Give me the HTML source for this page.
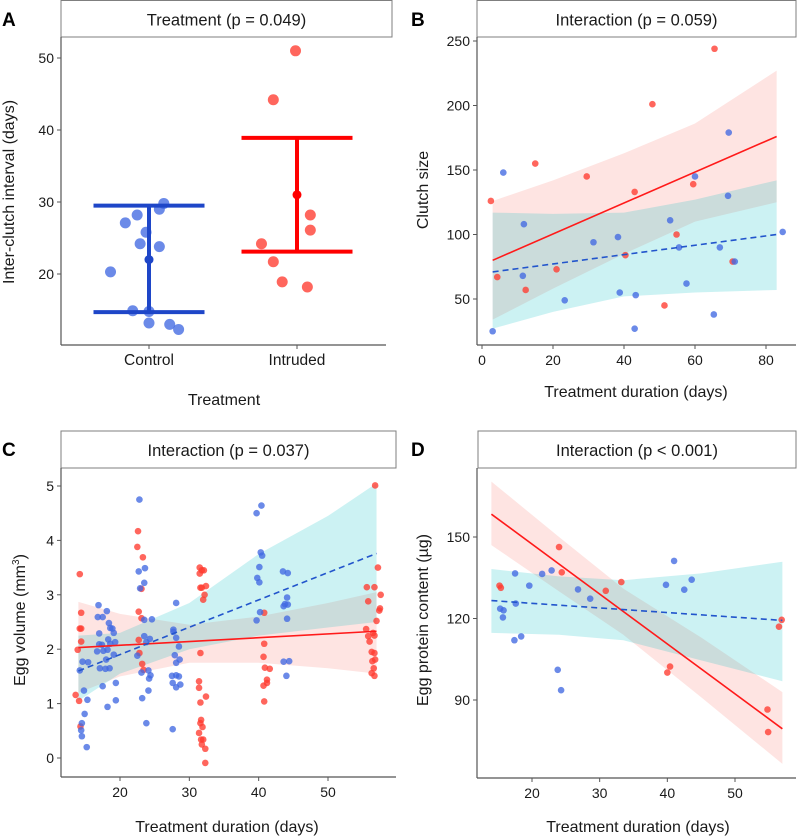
<!DOCTYPE html>
<html><head><meta charset="utf-8"><style>
html,body{margin:0;padding:0;background:#fff;}
svg{display:block;font-family:"Liberation Sans",Arial,sans-serif;}
</style></head><body>
<svg id="fig" width="798" height="836" viewBox="0 0 798 836"></svg>
<script>
// ---------- Panel A data ----------
const aCats = ["Control","Intruded"];
const aCtrlVals = [27.1,28.2,25.8,24.2,23.8,29.0,29.8,20.3,14.9,14.8,13.2,13.0,12.3];
const aCtrlJit  = [-0.16,-0.08,-0.02,-0.06,0.07,0.07,0.10,-0.26,-0.11,0,0,0.14,0.20];
const aIntrVals = [51,44.2,28.2,26.1,24.2,21.7,18.9,18.2];
const aIntrJit  = [-0.01,-0.16,0.09,0.09,-0.24,-0.16,-0.10,0.07];
const aMeans = [22,31];
const aLow = [14.7,23.1];
const aHigh = [29.5,38.9];
const aTicks = [20,30,40,50];
// ---------- Panel B data ----------
const bRedX = [2.5,4.3,12.3,15,21,29.5,40.4,43,48,51.4,54.8,59.5,65.5,70.6];
const bRedY = [126,67,57,155,73,145,84,133,201,45,100,139,244,79];
const bBlueX = [3,6,11.5,11.8,23.3,31.4,38.3,38.8,43,43.3,53,55.5,57.6,60,65.3,67,69.3,69.5,71.2,84.7];
const bBlueY = [25,148,68,108,49,94,98,55,27,53,111,90,62,145,38,90,130,179,79,102];
const bBandX = [3,20,40,60,83];
const bRedUp = [126,142,163,186,227];
const bRedLo = [34,58,85,110,125];
const bBlueUp = [117,116,117,127,142];
const bBlueLo = [27,40,52,55,57];
const bRedLine = [[3,80],[83,176]];
const bBlueLine = [[3,71],[83,100]];
const bXTicks = [0,20,40,60,80];
const bYTicks = [50,100,150,200,250];
// ---------- Panel C data ----------
const cRedX = [13.6,13.9,14.1,14.2,14.2,14.4,14.4,14.4,14.3,22.6,22.5,23.3,22.7,23.1,22.7,22.8,23.2,23.4,23.1,31.5,31.8,32.1,31.5,31.8,31.6,32.4,32.0,32.2,31.6,31.4,31.4,31.6,32.4,31.7,31.6,31.9,31.4,32.0,31.7,31.8,32.3,32.3,40.8,40.8,40.7,40.9,40.7,41.2,41.2,41.6,40.8,56.8,57.2,55.6,56.7,55.8,57.6,57.5,57.4,57.0,55.5,55.8,56.0,56.5,56.7,56.3,56.7,56.8,56.4,56.3,56.6,56.7];
const cRedY = [1.16,1.99,1.05,3.38,2.38,2.67,2.38,2.14,0.58,4.17,3.88,3.69,2.69,3.11,2.17,1.93,1.73,1.62,2.57,3.50,3.45,3.45,3.39,3.13,3.13,3.16,2.91,3.00,1.93,1.41,1.29,1.02,1.13,0.70,0.64,0.57,0.46,0.34,0.34,0.25,0.17,-0.09,2.67,2.10,1.86,1.66,1.33,1.44,1.38,1.64,1.04,5.01,3.50,3.14,3.14,2.88,3.00,2.75,2.71,2.52,2.37,2.24,2.14,2.30,2.25,1.95,1.93,1.81,1.78,1.56,1.65,1.51];
const cBlueX = [22.8,22.7,22.9,23.5,23.6,16.9,16.8,17.5,18.1,17.0,17.0,16.7,17.4,17.6,18.4,18.6,18.9,19.1,18.3,18.6,18.2,18.0,19.3,19.1,18.5,17.1,17.9,19.4,17.5,18.2,19.4,14.8,15.3,15.4,14.6,14.2,14.9,14.5,14.4,14.5,15.2,22.5,23.5,23.8,24.3,23.5,24.6,23.1,24.1,24.2,24.4,24.1,23.2,23.8,28.1,27.7,27.7,28.1,28.5,27.9,28.1,28.6,27.5,28.1,28.5,27.6,28.1,28.7,27.6,39.7,40.4,40.3,40.5,40.1,39.8,40.1,40.2,39.7,43.5,44.2,44.1,43.8,44.2,43.6,44.1,43.6,44.4,44.0];
const cBlueY = [4.75,3.43,3.12,3.22,3.49,2.81,2.59,2.59,2.70,2.29,2.09,1.96,2.08,1.97,2.48,2.39,2.38,2.30,2.18,2.10,1.99,1.81,2.13,1.90,1.65,1.65,1.64,1.38,1.32,0.94,1.06,1.24,1.07,1.76,1.77,1.61,0.81,0.64,0.51,0.40,0.20,1.88,2.24,2.13,2.19,2.54,2.55,1.57,1.61,1.46,1.52,1.24,1.10,0.64,2.85,2.36,2.32,2.21,2.05,1.89,1.75,1.81,1.51,1.52,1.50,1.38,1.30,1.35,0.53,4.50,4.64,3.78,3.72,3.51,3.31,3.23,2.68,2.53,3.43,3.40,2.95,2.83,2.82,2.79,2.56,1.77,1.78,1.51];
const cBandX = [14,20,30,40,50,57];
const cRedUp = [2.87,2.65,2.45,2.6,2.85,3.05];
const cRedLo = [1.2,1.5,1.75,1.75,1.65,1.55];
const cBlueUp = [2.25,2.3,2.85,3.75,4.45,5.05];
const cBlueLo = [1.05,1.55,2.0,2.25,2.4,2.5];
const cRedLine = [[14,2.03],[57,2.33]];
const cBlueLine = [[14,1.6],[57,3.76]];
const cXTicks = [20,30,40,50];
const cYTicks = [0,1,2,3,4,5];
// ---------- Panel D data ----------
const dRedX = [15.2,15.4,24.0,24.4,30.9,33.2,40.0,40.4,54.8,54.9,56.5,56.9];
const dRedY = [132.1,131.3,146.3,137.0,130.2,133.4,100.1,102.3,86.5,78.2,117.0,119.5];
const dBlueX = [15.3,15.8,15.7,17.5,17.6,17.4,18.4,19.6,21.5,22.9,23.8,24.3,26.8,28.6,39.8,41.0,42.5,43.6];
const dBlueY = [123.6,123.0,120.4,136.6,125.5,112.0,113.4,132.1,136.4,137.7,101.1,93.6,130.7,127.3,132.4,141.2,130.6,134.3];
const dBandX = [14,24,33.5,45,57];
const dRedUp = [170.4,150,131,113,92.9];
const dRedLo = [147,130,114,91,66.5];
const dBlueUp = [138.2,135.5,134.1,136.6,140.9];
const dBlueLo = [114.7,114,112,104.6,96.9];
const dRedLine = [[14,158.4],[57,79.4]];
const dBlueLine = [[14,126.6],[57,119.3]];
const dXTicks = [20,30,40,50];
const dYTicks = [90,120,150];

const NS = "http://www.w3.org/2000/svg";
const fig = document.getElementById('fig');
function mk(tag, attrs, parent){ const e=document.createElementNS(NS,tag); for(const k in attrs) e.setAttribute(k,attrs[k]); (parent||fig).appendChild(e); return e; }
function txt(s, attrs, parent){ const e=mk('text',attrs,parent); e.textContent=s; return e; }
function lin(d0,d1,r0,r1){ return v=>r0+(v-d0)*(r1-r0)/(d1-d0); }

const BLUEPT="#4169E1", REDPT="#FF3B30";
function panel(name, letter, title, box){
  const g=mk('g',{});
  
  
  const l=txt(letter,{x:box.lx,y:box.ly,'font-size':19,'font-weight':'bold',fill:'#000'},g);
   
  const s=mk('rect',{x:box.sx0,y:box.sy0,width:box.sx1-box.sx0,height:box.sy1-box.sy0,fill:'#fff',stroke:'#7f7f7f','stroke-width':1},g);
   
  const st=txt(title,{x:(box.sx0+box.sx1)/2,y:box.sy0+25,'font-size':16.5,'text-anchor':'middle',fill:'#1a1a1a'},g);
   
  return g;
}
function axes(g,name,o){
  const ya=mk('line',{x1:o.x0,y1:o.y0t,x2:o.x0,y2:o.y1,stroke:'#555','stroke-width':1.2},g);
   
  const xa=mk('line',{x1:o.x0,y1:o.y1,x2:o.x1,y2:o.y1,stroke:'#555','stroke-width':1.2},g);
   
  o.yTicks.forEach(t=>{ const y=o.sy(t);
    mk('line',{x1:o.x0-4,y1:y,x2:o.x0,y2:y,stroke:'#555'},g);
    const e=txt(String(t),{x:o.x0-7,y:y+5,'font-size':14,'text-anchor':'end',fill:'#1a1a1a'},g);
      });
  o.xTicks.forEach((t,i)=>{ const x=o.sx(t);
    mk('line',{x1:x,y1:o.y1,x2:x,y2:o.y1+4,stroke:'#555'},g);
    const lab=o.xLabels?o.xLabels[i]:String(t);
    const e=txt(lab,{x:x,y:o.y1+20,'font-size':o.xLabels?15.5:14,'text-anchor':'middle',fill:'#1a1a1a'},g);
      });
  const xt=txt(o.xTitle,{x:o.xtX,y:o.xtY,'font-size':16,'text-anchor':'middle',fill:'#1a1a1a'},g);
   
  const yt=txt('',{x:0,y:0,'font-size':16,'text-anchor':'middle',fill:'#1a1a1a',transform:`translate(${o.ytX},${o.ytY}) rotate(-90)`},g);
   
  yt.innerHTML=o.yTitle;
}
function band(g,name,sx,sy,xs,up,lo,color){
  let pts=xs.map((x,i)=>sx(x)+','+sy(up[i]));
  for(let i=xs.length-1;i>=0;i--) pts.push(sx(xs[i])+','+sy(lo[i]));
  const p=mk('polygon',{points:pts.join(' '),fill:color,'fill-opacity':0.2,stroke:'none'},g);
   
}
function fitline(g,name,sx,sy,pts,color,dash){
  const a={x1:sx(pts[0][0]),y1:sy(pts[0][1]),x2:sx(pts[1][0]),y2:sy(pts[1][1]),stroke:color,'stroke-width':1.6};
  if(dash) a['stroke-dasharray']='6,4';
  const l=mk('line',a,g);
   
}
function points(g,name,sx,sy,xs,ys,color,r){
  xs.forEach((x,i)=>{ const c=mk('circle',{cx:sx(x),cy:sy(ys[i]),r:r,fill:color,'fill-opacity':0.78},g);
      });
}

// ===== Panel A =====
(function(){
  const g=panel('panel-a','A','Treatment (p = 0.049)',{lx:2,ly:26,sx0:61,sy0:0.5,sx1:392,sy1:37});
  const sy=lin(20,50,274,58);
  const sx=lin(0,1,149,297);
  axes(g,'panel-a',{x0:61,x1:386,y0t:37,y1:345,sx:sx,sy:sy,yTicks:aTicks,xTicks:[0,1],xLabels:aCats,
    xTitle:'Treatment',xtX:224,xtY:405,yTitle:'Inter-clutch interval (days)',ytX:14,ytY:192});
  points(g,'control-point',v=>sx(0)+v*148,sy,aCtrlJit,aCtrlVals,BLUEPT,5.5);
  points(g,'intruded-point',v=>sx(1)+v*148,sy,aIntrJit,aIntrVals,REDPT,5.5);
  const cols=['#1E46C8','#FF0000'];
  aCats.forEach((c,i)=>{
    const x=sx(i), hw=55.5;
    const eb=mk('g',{},g);
     
    mk('line',{x1:x,y1:sy(aLow[i]),x2:x,y2:sy(aHigh[i]),stroke:cols[i],'stroke-width':4},eb);
    mk('line',{x1:x-hw,y1:sy(aLow[i]),x2:x+hw,y2:sy(aLow[i]),stroke:cols[i],'stroke-width':4},eb);
    mk('line',{x1:x-hw,y1:sy(aHigh[i]),x2:x+hw,y2:sy(aHigh[i]),stroke:cols[i],'stroke-width':4},eb);
    mk('circle',{cx:x,cy:sy(aMeans[i]),r:4.5,fill:cols[i]},eb);
  });
})();

// ===== Panel B =====
(function(){
  const g=panel('panel-b','B','Interaction (p = 0.059)',{lx:411,ly:26,sx0:477,sy0:0.5,sx1:796,sy1:37});
  const sx=lin(0,80,482,766), sy=lin(50,250,299,41);
  band(g,'intruded-ci-band',sx,sy,bBandX,bRedUp,bRedLo,'#F8766D');
  band(g,'control-ci-band',sx,sy,bBandX,bBlueUp,bBlueLo,'#00BFC4');
  axes(g,'panel-b',{x0:477,x1:796,y0t:37,y1:345,sx:sx,sy:sy,yTicks:bYTicks,xTicks:bXTicks,
    xTitle:'Treatment duration (days)',xtX:636,xtY:397,yTitle:'Clutch size',ytX:428,ytY:190});
  points(g,'intruded-point',sx,sy,bRedX,bRedY,REDPT,3.3);
  points(g,'control-point',sx,sy,bBlueX,bBlueY,BLUEPT,3.3);
  fitline(g,'intruded-fit-line',sx,sy,bRedLine,'#FF1A1A',false);
  fitline(g,'control-fit-line',sx,sy,bBlueLine,'#2255CC',true);
})();

// ===== Panel C =====
(function(){
  const g=panel('panel-c','C','Interaction (p = 0.037)',{lx:2,ly:456,sx0:61,sy0:431,sx1:396,sy1:468});
  const sx=lin(20,50,120,328), sy=lin(0,5,758,486);
  band(g,'intruded-ci-band',sx,sy,cBandX,cRedUp,cRedLo,'#F8766D');
  band(g,'control-ci-band',sx,sy,cBandX,cBlueUp,cBlueLo,'#00BFC4');
  axes(g,'panel-c',{x0:61,x1:396,y0t:468,y1:777,sx:sx,sy:sy,yTicks:cYTicks,xTicks:cXTicks,
    xTitle:'Treatment duration (days)',xtX:227,xtY:832,yTitle:'Egg volume (mm<tspan dy="-6" font-size="10">3</tspan><tspan dy="6">)</tspan>',ytX:25,ytY:620});
  points(g,'intruded-point',sx,sy,cRedX,cRedY,REDPT,3.3);
  points(g,'control-point',sx,sy,cBlueX,cBlueY,BLUEPT,3.3);
  fitline(g,'intruded-fit-line',sx,sy,cRedLine,'#FF1A1A',false);
  fitline(g,'control-fit-line',sx,sy,cBlueLine,'#2255CC',true);
})();

// ===== Panel D =====
(function(){
  const g=panel('panel-d','D','Interaction (p < 0.001)',{lx:411,ly:456,sx0:478,sy0:431,sx1:796,sy1:468});
  const sx=lin(20,50,532,735), sy=lin(90,150,700,537);
  band(g,'intruded-ci-band',sx,sy,dBandX,dRedUp,dRedLo,'#F8766D');
  band(g,'control-ci-band',sx,sy,dBandX,dBlueUp,dBlueLo,'#00BFC4');
  axes(g,'panel-d',{x0:477,x1:796,y0t:468,y1:778,sx:sx,sy:sy,yTicks:dYTicks,xTicks:dXTicks,
    xTitle:'Treatment duration (days)',xtX:638,xtY:832,yTitle:'Egg protein content (µg)',ytX:428,ytY:620});
  points(g,'intruded-point',sx,sy,dRedX,dRedY,REDPT,3.3);
  points(g,'control-point',sx,sy,dBlueX,dBlueY,BLUEPT,3.3);
  fitline(g,'intruded-fit-line',sx,sy,dRedLine,'#FF1A1A',false);
  fitline(g,'control-fit-line',sx,sy,dBlueLine,'#2255CC',true);
})();
</script>
</body></html>
